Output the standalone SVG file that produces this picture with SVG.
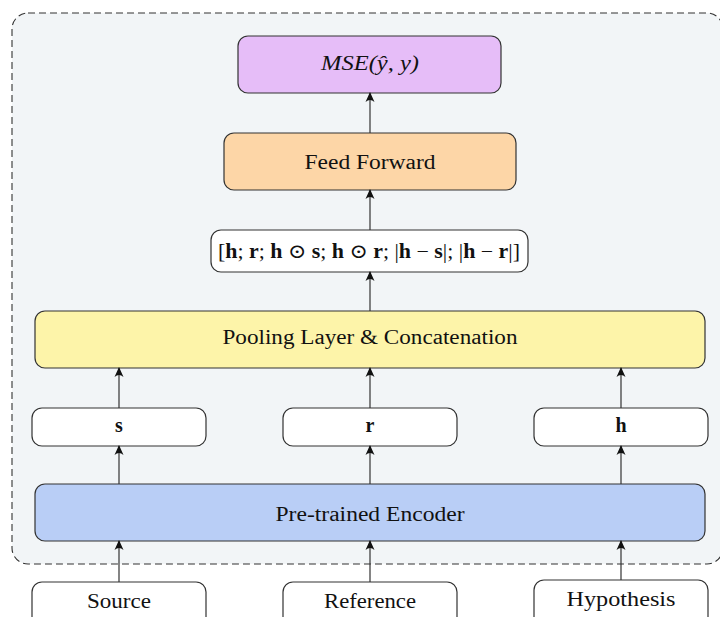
<svg xmlns="http://www.w3.org/2000/svg" width="720" height="617" viewBox="0 0 720 617">
  <defs>
    <marker id="arrow" viewBox="0 0 10 10" refX="9" refY="5" markerWidth="10" markerHeight="10" markerUnits="userSpaceOnUse" orient="auto">
      <path d="M0,0.5 Q4,5 0,9.5 L10,5 Z" fill="#111"/>
    </marker>
  </defs>
  <style>
    .box { stroke: #333; stroke-width: 1.2; }
    .lbl { font-family: "Liberation Serif", "DejaVu Serif", serif; font-size: 20px; fill: #111; text-anchor: middle; }
    .edge { stroke: #333; stroke-width: 1.2; fill: none; marker-end: url(#arrow); }
  </style>

  <rect width="720" height="617" fill="#ffffff"/>

  <!-- model frame -->
  <g id="frame">
    <rect x="12" y="13" width="711" height="551" rx="16" fill="#f2f5f7" stroke="#333" stroke-width="1.1" stroke-dasharray="7 4"/>
  </g>

  <g id="loss">
    <rect class="box" x="238" y="36" width="263" height="57" rx="10" fill="#e6bdf8"/>
    <text class="lbl" x="370" y="70" font-style="italic" textLength="98" lengthAdjust="spacingAndGlyphs">MSE(ŷ, y)</text>
  </g>

  <g id="feed-forward">
    <rect class="box" x="224" y="133" width="292" height="57" rx="10" fill="#fdd6a7"/>
    <text class="lbl" x="370" y="169" textLength="131" lengthAdjust="spacingAndGlyphs">Feed Forward</text>
  </g>

  <g id="features">
    <rect class="box" x="211" y="230" width="317" height="42" rx="10" fill="#ffffff"/>
    <text class="lbl" x="369" y="258" textLength="302" lengthAdjust="spacingAndGlyphs">[<tspan font-weight="bold">h</tspan>; <tspan font-weight="bold">r</tspan>; <tspan font-weight="bold">h</tspan> ⊙ <tspan font-weight="bold">s</tspan>; <tspan font-weight="bold">h</tspan> ⊙ <tspan font-weight="bold">r</tspan>; |<tspan font-weight="bold">h</tspan> − <tspan font-weight="bold">s</tspan>|; |<tspan font-weight="bold">h</tspan> − <tspan font-weight="bold">r</tspan>|]</text>
  </g>

  <g id="pooling">
    <rect class="box" x="35" y="311" width="670" height="57" rx="10" fill="#fdf4a9"/>
    <text class="lbl" x="370" y="344" textLength="295" lengthAdjust="spacingAndGlyphs">Pooling Layer &amp; Concatenation</text>
  </g>

  <g id="vec-s">
    <rect class="box" x="32" y="408" width="174" height="38" rx="10" fill="#ffffff"/>
    <text class="lbl" x="119" y="432" font-weight="bold">s</text>
  </g>
  <g id="vec-r">
    <rect class="box" x="283" y="408" width="174" height="38" rx="10" fill="#ffffff"/>
    <text class="lbl" x="370" y="432" font-weight="bold">r</text>
  </g>
  <g id="vec-h">
    <rect class="box" x="534" y="408" width="174" height="38" rx="10" fill="#ffffff"/>
    <text class="lbl" x="621" y="432" font-weight="bold">h</text>
  </g>

  <g id="encoder">
    <rect class="box" x="35" y="484" width="670" height="57" rx="10" fill="#b9cef6"/>
    <text class="lbl" x="370" y="521" textLength="189" lengthAdjust="spacingAndGlyphs">Pre-trained Encoder</text>
  </g>

  <g id="source">
    <rect class="box" x="32" y="582" width="174" height="50" rx="10" fill="#ffffff"/>
    <text class="lbl" x="119" y="608" textLength="64" lengthAdjust="spacingAndGlyphs">Source</text>
  </g>
  <g id="reference">
    <rect class="box" x="283" y="582" width="174" height="50" rx="10" fill="#ffffff"/>
    <text class="lbl" x="370" y="608" textLength="92" lengthAdjust="spacingAndGlyphs">Reference</text>
  </g>
  <g id="hypothesis">
    <rect class="box" x="534" y="580" width="174" height="50" rx="10" fill="#ffffff"/>
    <text class="lbl" x="621" y="606" textLength="109" lengthAdjust="spacingAndGlyphs">Hypothesis</text>
  </g>

  <g id="connectors">
    <line class="edge" x1="119" y1="582" x2="119" y2="541"/>
    <line class="edge" x1="370" y1="582" x2="370" y2="541"/>
    <line class="edge" x1="621" y1="580" x2="621" y2="541"/>
    <line class="edge" x1="119" y1="484" x2="119" y2="446"/>
    <line class="edge" x1="370" y1="484" x2="370" y2="446"/>
    <line class="edge" x1="621" y1="484" x2="621" y2="446"/>
    <line class="edge" x1="119" y1="408" x2="119" y2="368"/>
    <line class="edge" x1="370" y1="408" x2="370" y2="368"/>
    <line class="edge" x1="621" y1="408" x2="621" y2="368"/>
    <line class="edge" x1="370" y1="311" x2="370" y2="272"/>
    <line class="edge" x1="370" y1="230" x2="370" y2="190"/>
    <line class="edge" x1="370" y1="133" x2="370" y2="93"/>
  </g>
</svg>
